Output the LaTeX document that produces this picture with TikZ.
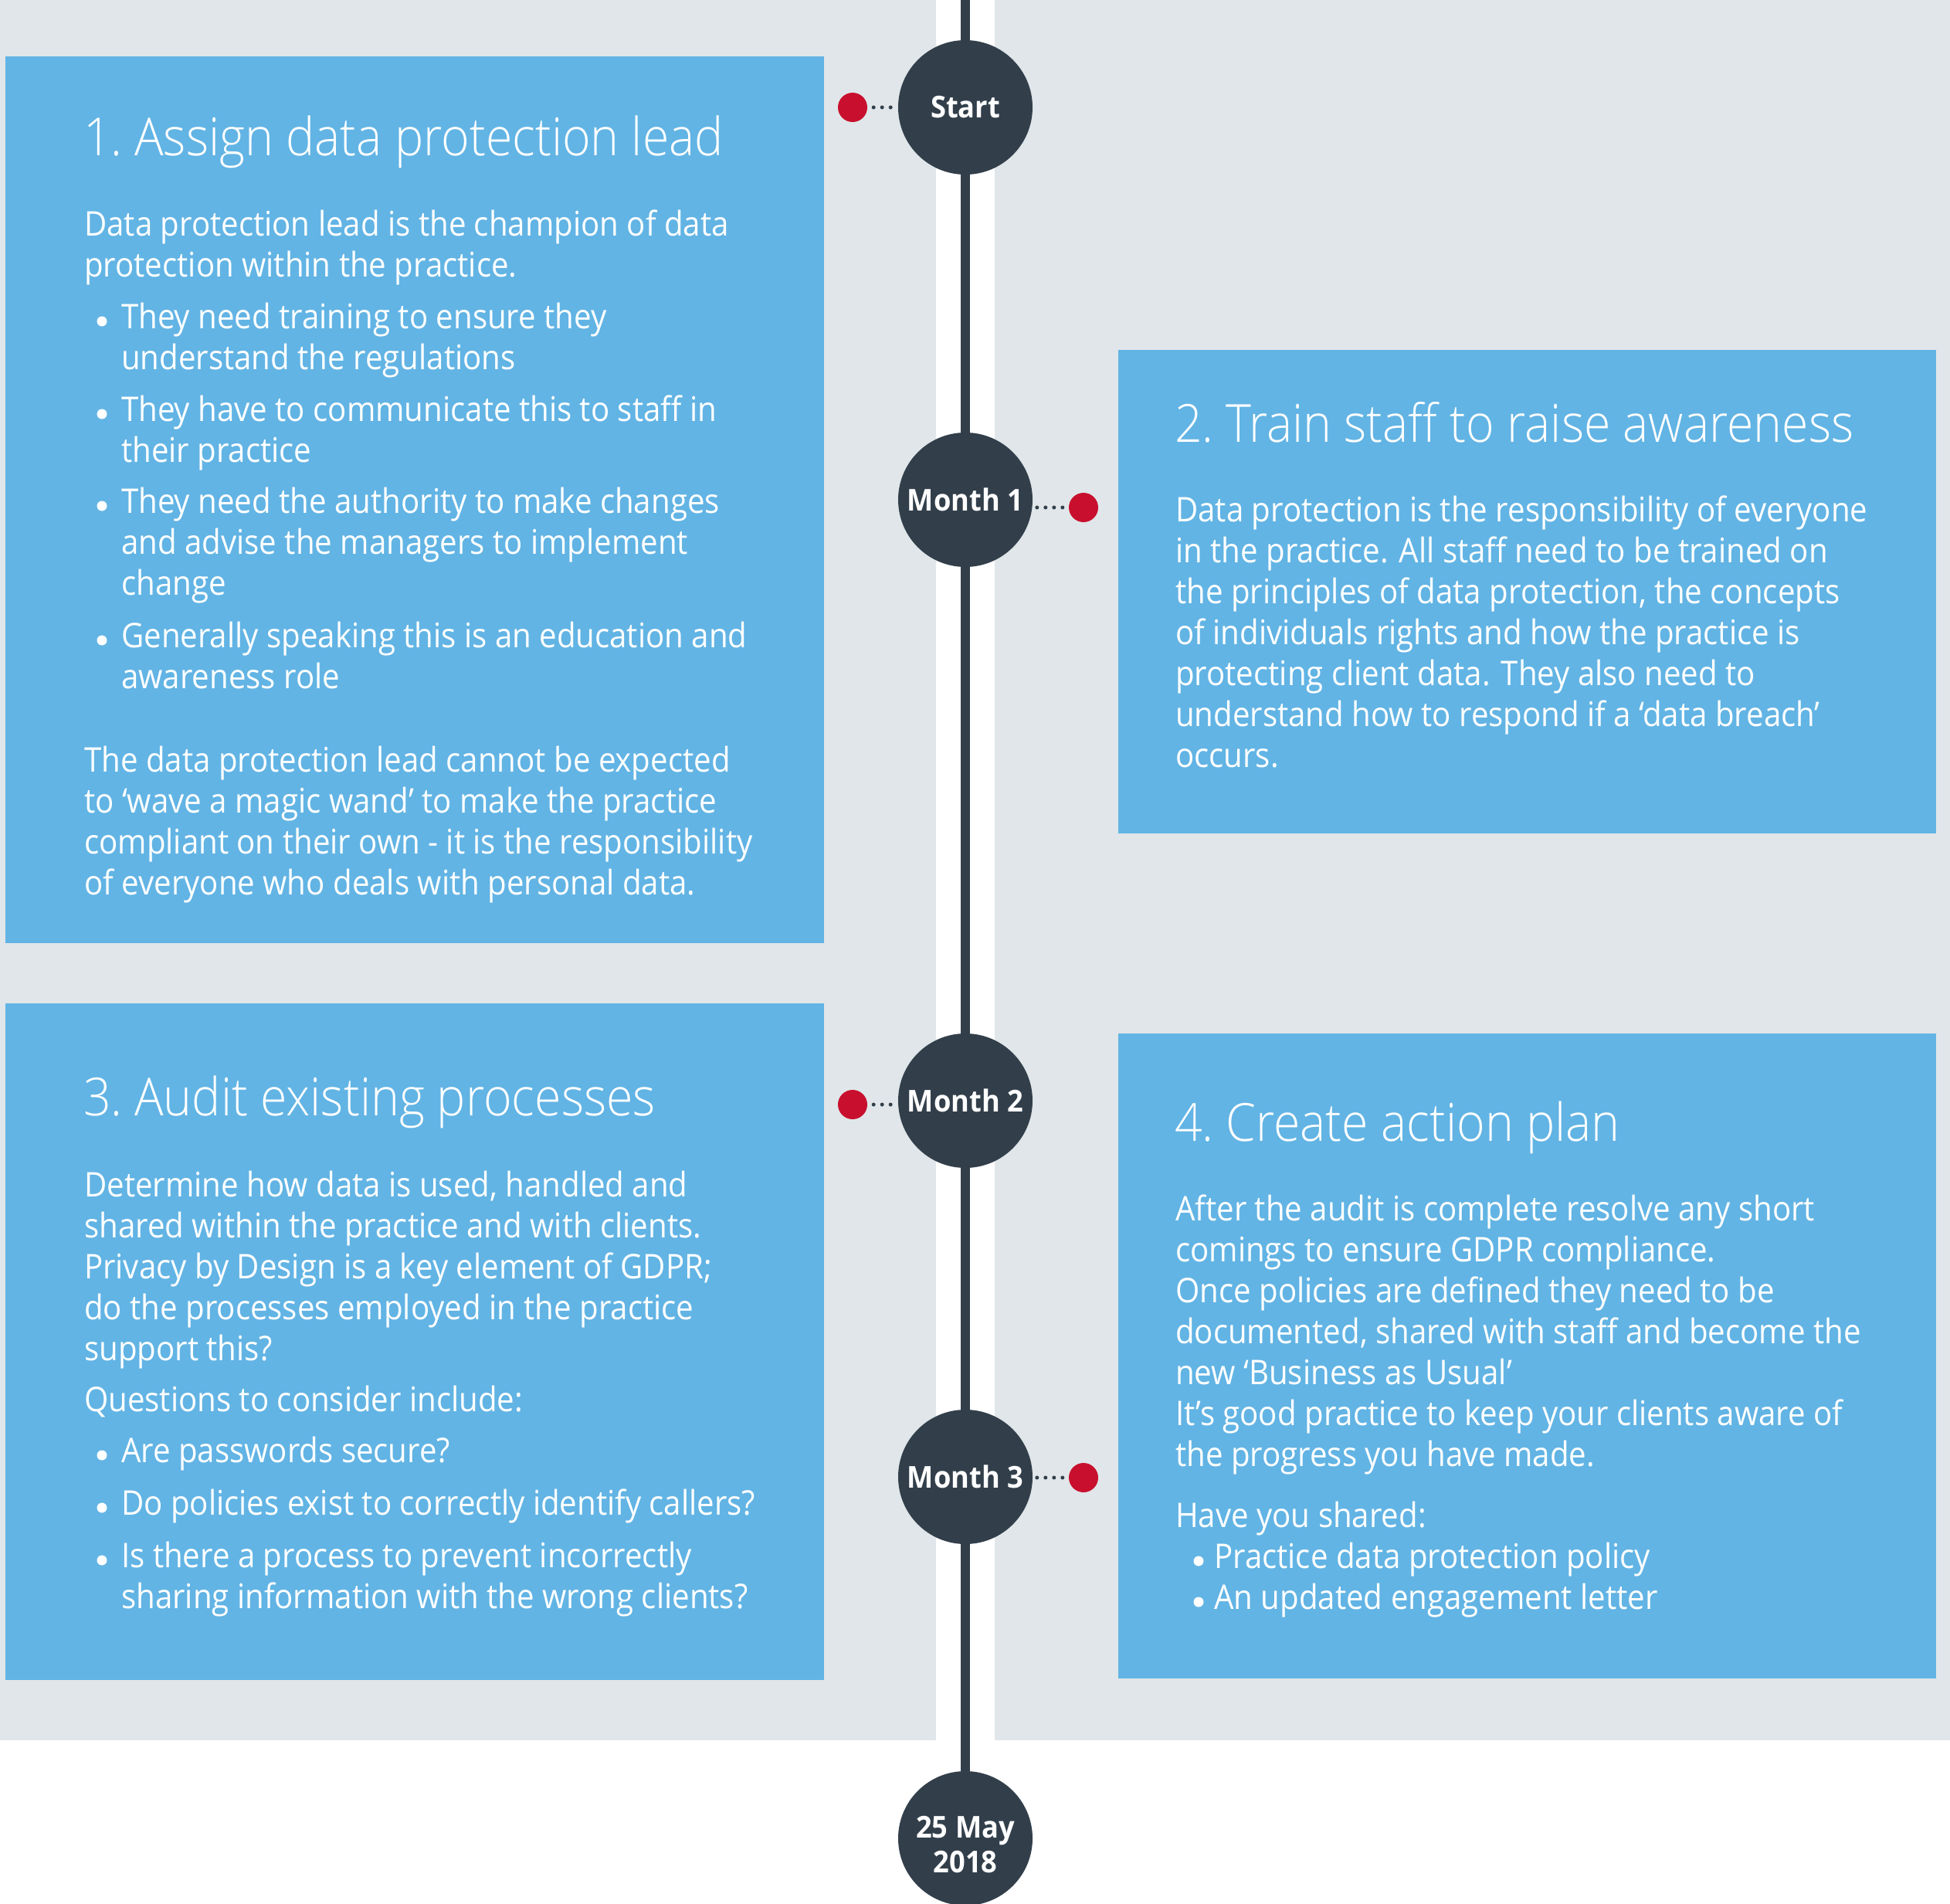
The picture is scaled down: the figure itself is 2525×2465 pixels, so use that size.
\documentclass[tikz,border=0pt]{standalone}
\usepackage{fontspec}
\setmainfont{Open Sans}
\newfontfamily\txt{Open Sans}[FakeStretch=0.914]
\IfFontExistsTF{Open Sans Light}
  {\newfontfamily\ttlfont{Open Sans Light}[FakeStretch=0.92]}
  {\newfontfamily\ttlfont{Open Sans}[FakeStretch=0.88]}
\newfontfamily\lbl{Open Sans}[FakeStretch=0.93]
\definecolor{bggrey}{HTML}{E0E6E9}
\definecolor{boxblue}{HTML}{62B4E4}
\definecolor{darkc}{HTML}{323F4B}
\definecolor{redc}{HTML}{C8102E}
\newcommand\para[1]{\parbox[t]{1100pt}{\lineskiplimit=-100pt\raggedright #1}}
\newcommand\Cnt[1]{\hspace*{#1}}
\tikzset{
  box/.style={fill=boxblue, anchor=north west, inner sep=0pt, outer sep=0pt},
  ttl/.style={anchor=base west, inner sep=0pt, text=white, font=\ttlfont\fontsize{68}{80}\selectfont},
  bodytxt/.style={anchor=base west, inner sep=0pt, text=white, font=\txt\fontsize{44}{53}\selectfont},
  mile/.style={circle, fill=darkc, minimum size=174pt, inner sep=0pt, text=white, align=center, font=\lbl\bfseries\fontsize{39}{45}\selectfont},
  miletxt/.style={inner sep=0pt, text=white, align=center, font=\lbl\bfseries\fontsize{39}{45}\selectfont},
  reddot/.style={circle, fill=redc, minimum size=38pt, inner sep=0pt},
  dotline/.style={draw=darkc, line width=5pt, line cap=round, dash pattern=on 0pt off 11pt},
  tline/.style={draw=darkc, line width=12pt},
  bul/.style={fill=white},
}
\begin{document}
\begin{tikzpicture}[x=1pt, y=-1pt]
\useasboundingbox (0,0) rectangle (2525,2465);
% background
\fill[bggrey] (0,0) rectangle (2525,2253);
\fill[white] (1212,0) rectangle (1288,2253);
% timeline
\coordinate (ttop) at (1250,0);
\coordinate (tend) at (1250,2380);
\draw[tline] (ttop) -- (tend);
\node[mile] (start) at (1250,139) {Start};
\node[mile] (m1) at (1250,647) {Month 1};
\node[mile] (m2) at (1250,1425) {Month 2};
\node[mile] (m3) at (1250,1912) {Month 3};
\node[mile] (endc) at (tend) {};
\node[miletxt] (endlbl) at (1250,2388) {25 May\\[0pt]2018};
% boxes
\node[box, minimum width=1060pt, minimum height=1148pt] (box1) at (7,73) {};
\node[box, minimum width=1059pt, minimum height=626pt] (box2) at (1448,453) {};
\node[box, minimum width=1060pt, minimum height=876pt] (box3) at (7,1299) {};
\node[box, minimum width=1059pt, minimum height=835pt] (box4) at (1448,1338) {};
% red dots and dotted connectors
\node[reddot] (d0) at (1104,139) {};
\node[reddot] (d1) at (1403,657) {};
\node[reddot] (d2) at (1104,1430) {};
\node[reddot] (d3) at (1403,1913) {};
\draw[dotline, shorten <=8pt] (d0.east) -- (start.west |- d0.east);
\draw[dotline, shorten <=8pt] (d1.west) -- (m1.east |- d1.west);
\draw[dotline, shorten <=8pt] (d2.east) -- (m2.west |- d2.east);
\draw[dotline, shorten <=8pt] (d3.west) -- (m3.east |- d3.west);
% bullets
\foreach \by in {416,536,655,829} {\fill[bul] (132,\by) circle (6.5);}
\foreach \by in {1884,1952,2020} {\fill[bul] (132,\by) circle (6.5);}
\foreach \by in {2021,2074} {\fill[bul] (1552,\by) circle (6.5);}
% box 1
\node[ttl] (t1) at (108,201) {1.\hspace{-6pt} Assign data protection lead};
\node[bodytxt] (p1) at (109,305) {\para{%
Data protection lead is the champion of data\\
protection within the practice.\\[14pt]
\Cnt{48pt}They need training to ensure they\\
\Cnt{48pt}understand the regulations\\[14pt]
\Cnt{48pt}They have to communicate this to staff in\\
\Cnt{48pt}their practice\\[13pt]
\Cnt{48pt}They need the authority to make changes\\
\Cnt{48pt}and advise the managers to implement\\
\Cnt{48pt}change\\[15pt]
\Cnt{48pt}Generally speaking this is an education and\\
\Cnt{48pt}awareness role\\[55pt]
The data protection lead cannot be expected\\
to ‘wave a magic wand’ to make the practice\\
compliant on their own - it is the responsibility\\
of everyone who deals with personal data.}};
% box 2
\node[ttl] (t2) at (1521,572) {2.\hspace{-6pt} Train staff to raise awareness};
\node[bodytxt] (p2) at (1522,675) {\para{%
Data protection is the responsibility of everyone\\
in the practice. All staff need to be trained on\\
the principles of data protection, the concepts\\
of individuals rights and how the practice is\\
protecting client data. They also need to\\
understand how to respond if a ‘data breach’\\
occurs.}};
% box 3
\node[ttl] (t3) at (108,1444) {3.\hspace{-6pt} Audit existing processes};
\node[bodytxt] (p3) at (109,1549) {\para{%
Determine how data is used, handled and\\
shared within the practice and with clients.\\
Privacy by Design is a key element of GDPR;\\
do the processes employed in the practice\\
support this?\\[13pt]
Questions to consider include:\\[13pt]
\Cnt{48pt}Are passwords secure?\\[15pt]
\Cnt{48pt}Do policies exist to correctly identify callers?\\[15pt]
\Cnt{48pt}Is there a process to prevent incorrectly\\
\Cnt{48pt}sharing information with the wrong clients?}};
% box 4
\node[ttl] (t4) at (1521,1477) {4.\hspace{-6pt} Create action plan};
\node[bodytxt] (p4) at (1522,1580) {\para{%
After the audit is complete resolve any short\\
comings to ensure GDPR compliance.\\
Once policies are defined they need to be\\
documented, shared with staff and become the\\
new ‘Business as Usual’\\
It’s good practice to keep your clients aware of\\
the progress you have made.\\[26pt]
Have you shared:\\
\Cnt{50pt}Practice data protection policy\\
\Cnt{50pt}An updated engagement letter}};
\end{tikzpicture}
\end{document}
